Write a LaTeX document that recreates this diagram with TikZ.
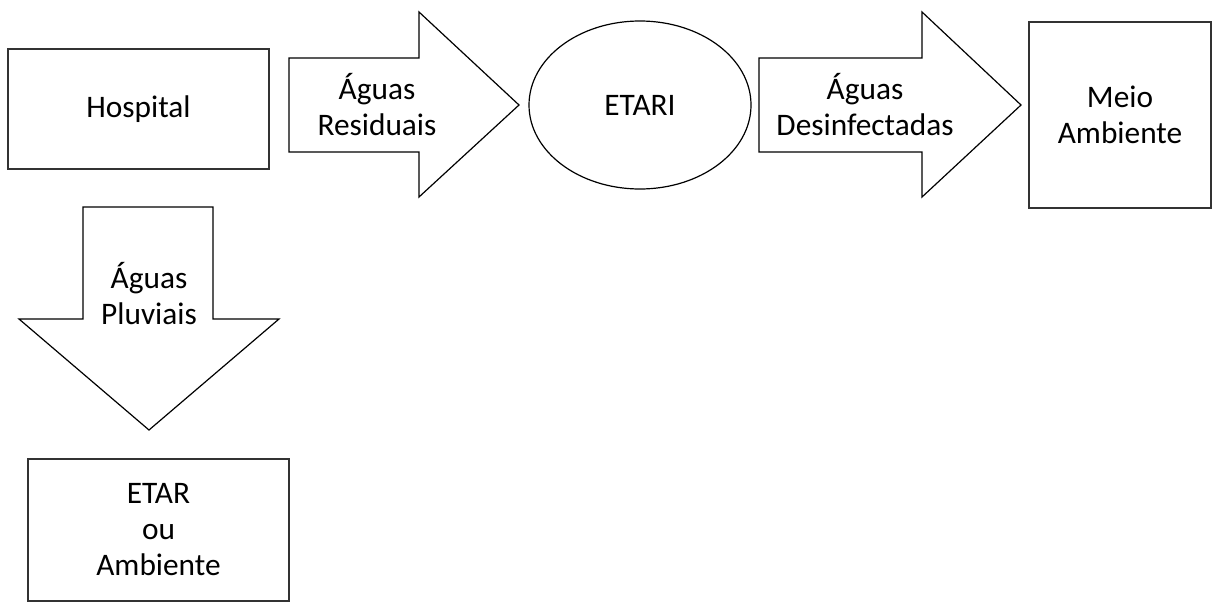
\documentclass[tikz,border=0pt]{standalone}
\usepackage{fontspec}
\setmainfont{Carlito}
\usepackage{tikz}
\usetikzlibrary{shapes.geometric}
\tikzstyle{box} = [rectangle, draw=black!80, line width=1.1pt, align=center, inner sep=0pt]
\tikzstyle{oval} = [ellipse, draw=black, line width=0.9pt, inner sep=0pt]
\tikzstyle{blockarrow} = [draw=black, line width=0.9pt, line join=miter]
\tikzstyle{txt} = [align=center, font=\fontsize{23.5pt}{27pt}\selectfont]

\begin{document}
\begin{tikzpicture}[x=0.75pt, y=-0.75pt]
      \useasboundingbox (0,0) rectangle (1212,603);
      \node (hosp) [box, txt, minimum width=261*0.75pt, minimum height=120*0.75pt] at (138.5,109) {Hospital};
      \draw [blockarrow] (289,58) -- (419,58) -- (419,12) -- (519,105) -- (419,197) -- (419,152) -- (289,152) -- cycle;
      \node (resid) [txt] at (377,105) {Águas\\Residuais};
      \node (etari) [oval, txt, minimum width=222*0.75pt, minimum height=168*0.75pt] at (640,105) {ETARI};
      \draw [blockarrow] (759,58) -- (922,58) -- (922,12) -- (1021,105) -- (922,197) -- (922,152) -- (759,152) -- cycle;
      \node (desinf) [txt] at (865,105) {Águas\\Desinfectadas};
      \node (meio) [box, txt, minimum width=182*0.75pt, minimum height=186*0.75pt] at (1120,115) {Meio\\Ambiente};
      \draw [blockarrow] (83,207) -- (213,207) -- (213,319) -- (279,319) -- (149,430) -- (19,319) -- (83,319) -- cycle;
      \node (pluv) [txt] at (149,294) {Águas\\Pluviais};
      \node (etar) [box, txt, minimum width=261*0.75pt, minimum height=142*0.75pt] at (158.5,530) {ETAR\\ou\\Ambiente};
    \end{tikzpicture}
\end{document}
